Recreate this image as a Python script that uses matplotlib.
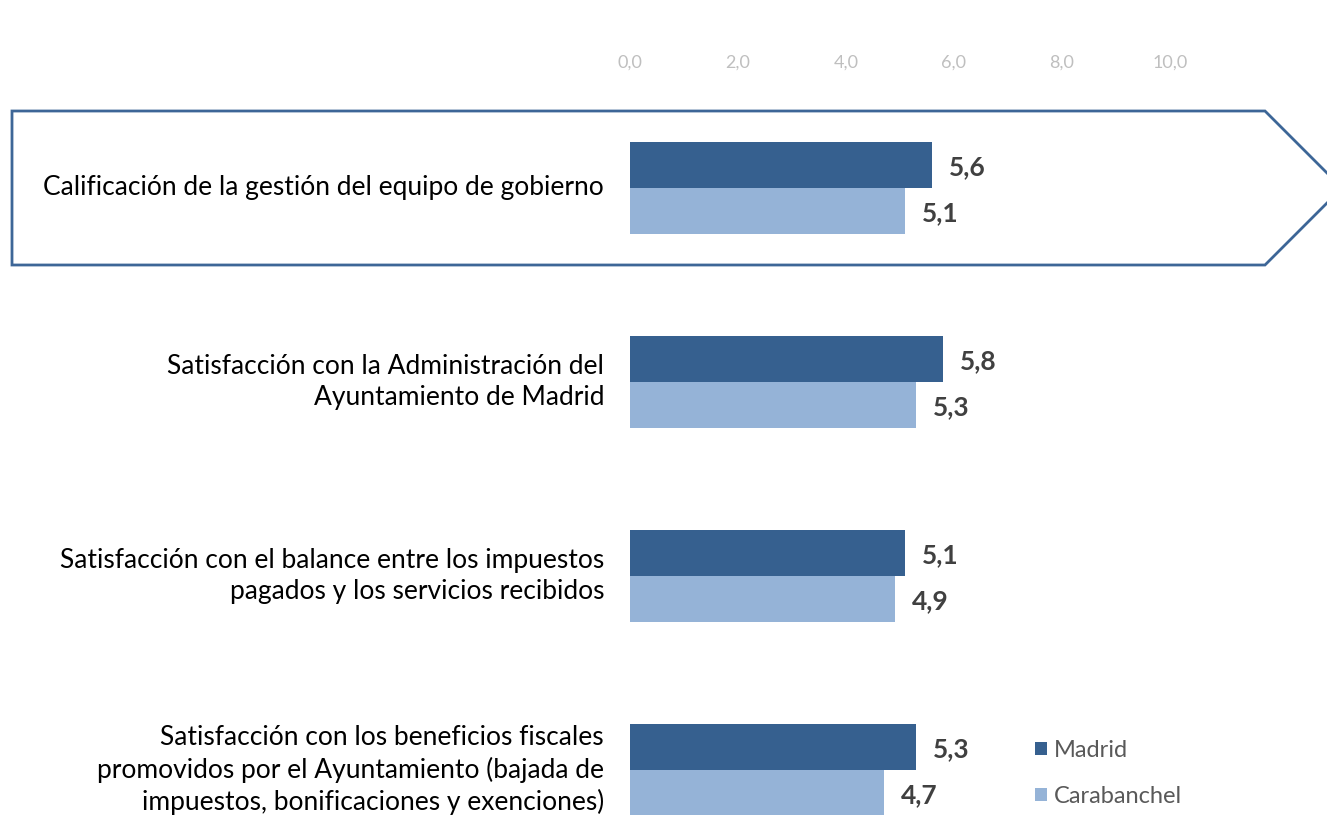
import numpy as np
import matplotlib
matplotlib.use("Agg")
import matplotlib.pyplot as plt
from matplotlib.patches import Polygon

plt.rcParams['font.family'] = ['Lato', 'DejaVu Sans']

#Data
categories = [
    "Calificación de la gestión del equipo de gobierno",
    "Satisfacción con la Administración del\nAyuntamiento de Madrid",
    "Satisfacción con el balance entre los impuestos\npagados y los servicios recibidos",
    "Satisfacción con los beneficios fiscales\npromovidos por el Ayuntamiento (bajada de\nimpuestos, bonificaciones y exenciones)",
]
madrid = [5.6, 5.8, 5.1, 5.3]
carabanchel = [5.1, 5.3, 4.9, 4.7]
ticks = [0, 2, 4, 6, 8, 10]

c_mad = '#36608F'
c_car = '#95B3D7'
W, H = 1327, 815

fig = plt.figure(figsize=(W/100, H/100), dpi=100)
#axes: x 0 -> px 630, 10 -> px 1170 ; y -0.5 -> px 91, 3.5 -> px 867
ax = fig.add_axes([630/W, 1-867/H, 540/W, 776/H])
ax.set_facecolor('none')
ax.set_zorder(2)

y = np.arange(len(categories))
h = 0.237
ax.barh(y - h/2, madrid, height=h, color=c_mad, label='Madrid')
ax.barh(y + h/2, carabanchel, height=h, color=c_car, label='Carabanchel')
ax.set_xlim(0, 10)
ax.set_ylim(3.5, -0.5)

for i in range(len(categories)):
    ax.annotate('{:.1f}'.format(madrid[i]).replace('.', ','), (madrid[i], y[i]-h/2),
                xytext=(17, -2), textcoords='offset pixels', va='center', ha='left',
                fontsize=19, fontweight='bold', color='#404040')
    ax.annotate('{:.1f}'.format(carabanchel[i]).replace('.', ','), (carabanchel[i], y[i]+h/2),
                xytext=(17, -2), textcoords='offset pixels', va='center', ha='left',
                fontsize=19, fontweight='bold', color='#404040')
    ax.annotate(categories[i], (0, y[i]), xytext=(-26, 0), textcoords='offset pixels',
                va='center', ha='right', fontsize=19, color='black', linespacing=1.28)

ax.xaxis.tick_top()
ax.set_xticks(ticks)
ax.set_xticklabels(['{:.1f}'.format(t).replace('.', ',') for t in ticks])
ax.tick_params(axis='x', length=0, pad=15, labelsize=13, labelcolor='#BFBFBF')
ax.set_yticks([])
for s in ax.spines.values():
    s.set_visible(False)

#arrow box around first category
pts = [(12, 111), (1265, 111), (1342, 188), (1265, 265), (12, 265)]
poly = Polygon([(px/W, 1-py/H) for px, py in pts], closed=True, transform=fig.transFigure,
               facecolor='white', edgecolor='#3D6697', linewidth=2, zorder=1)
fig.add_artist(poly)

#legend
fig.legend(loc='upper left', bbox_to_anchor=(1035/W, 1-740/H), frameon=False,
           fontsize=17, labelcolor='#595959', handlelength=0.5, handleheight=0.5,
           handletextpad=0.3, labelspacing=1.05, borderpad=0, borderaxespad=0)

fig.savefig('out.png', dpi=100)
